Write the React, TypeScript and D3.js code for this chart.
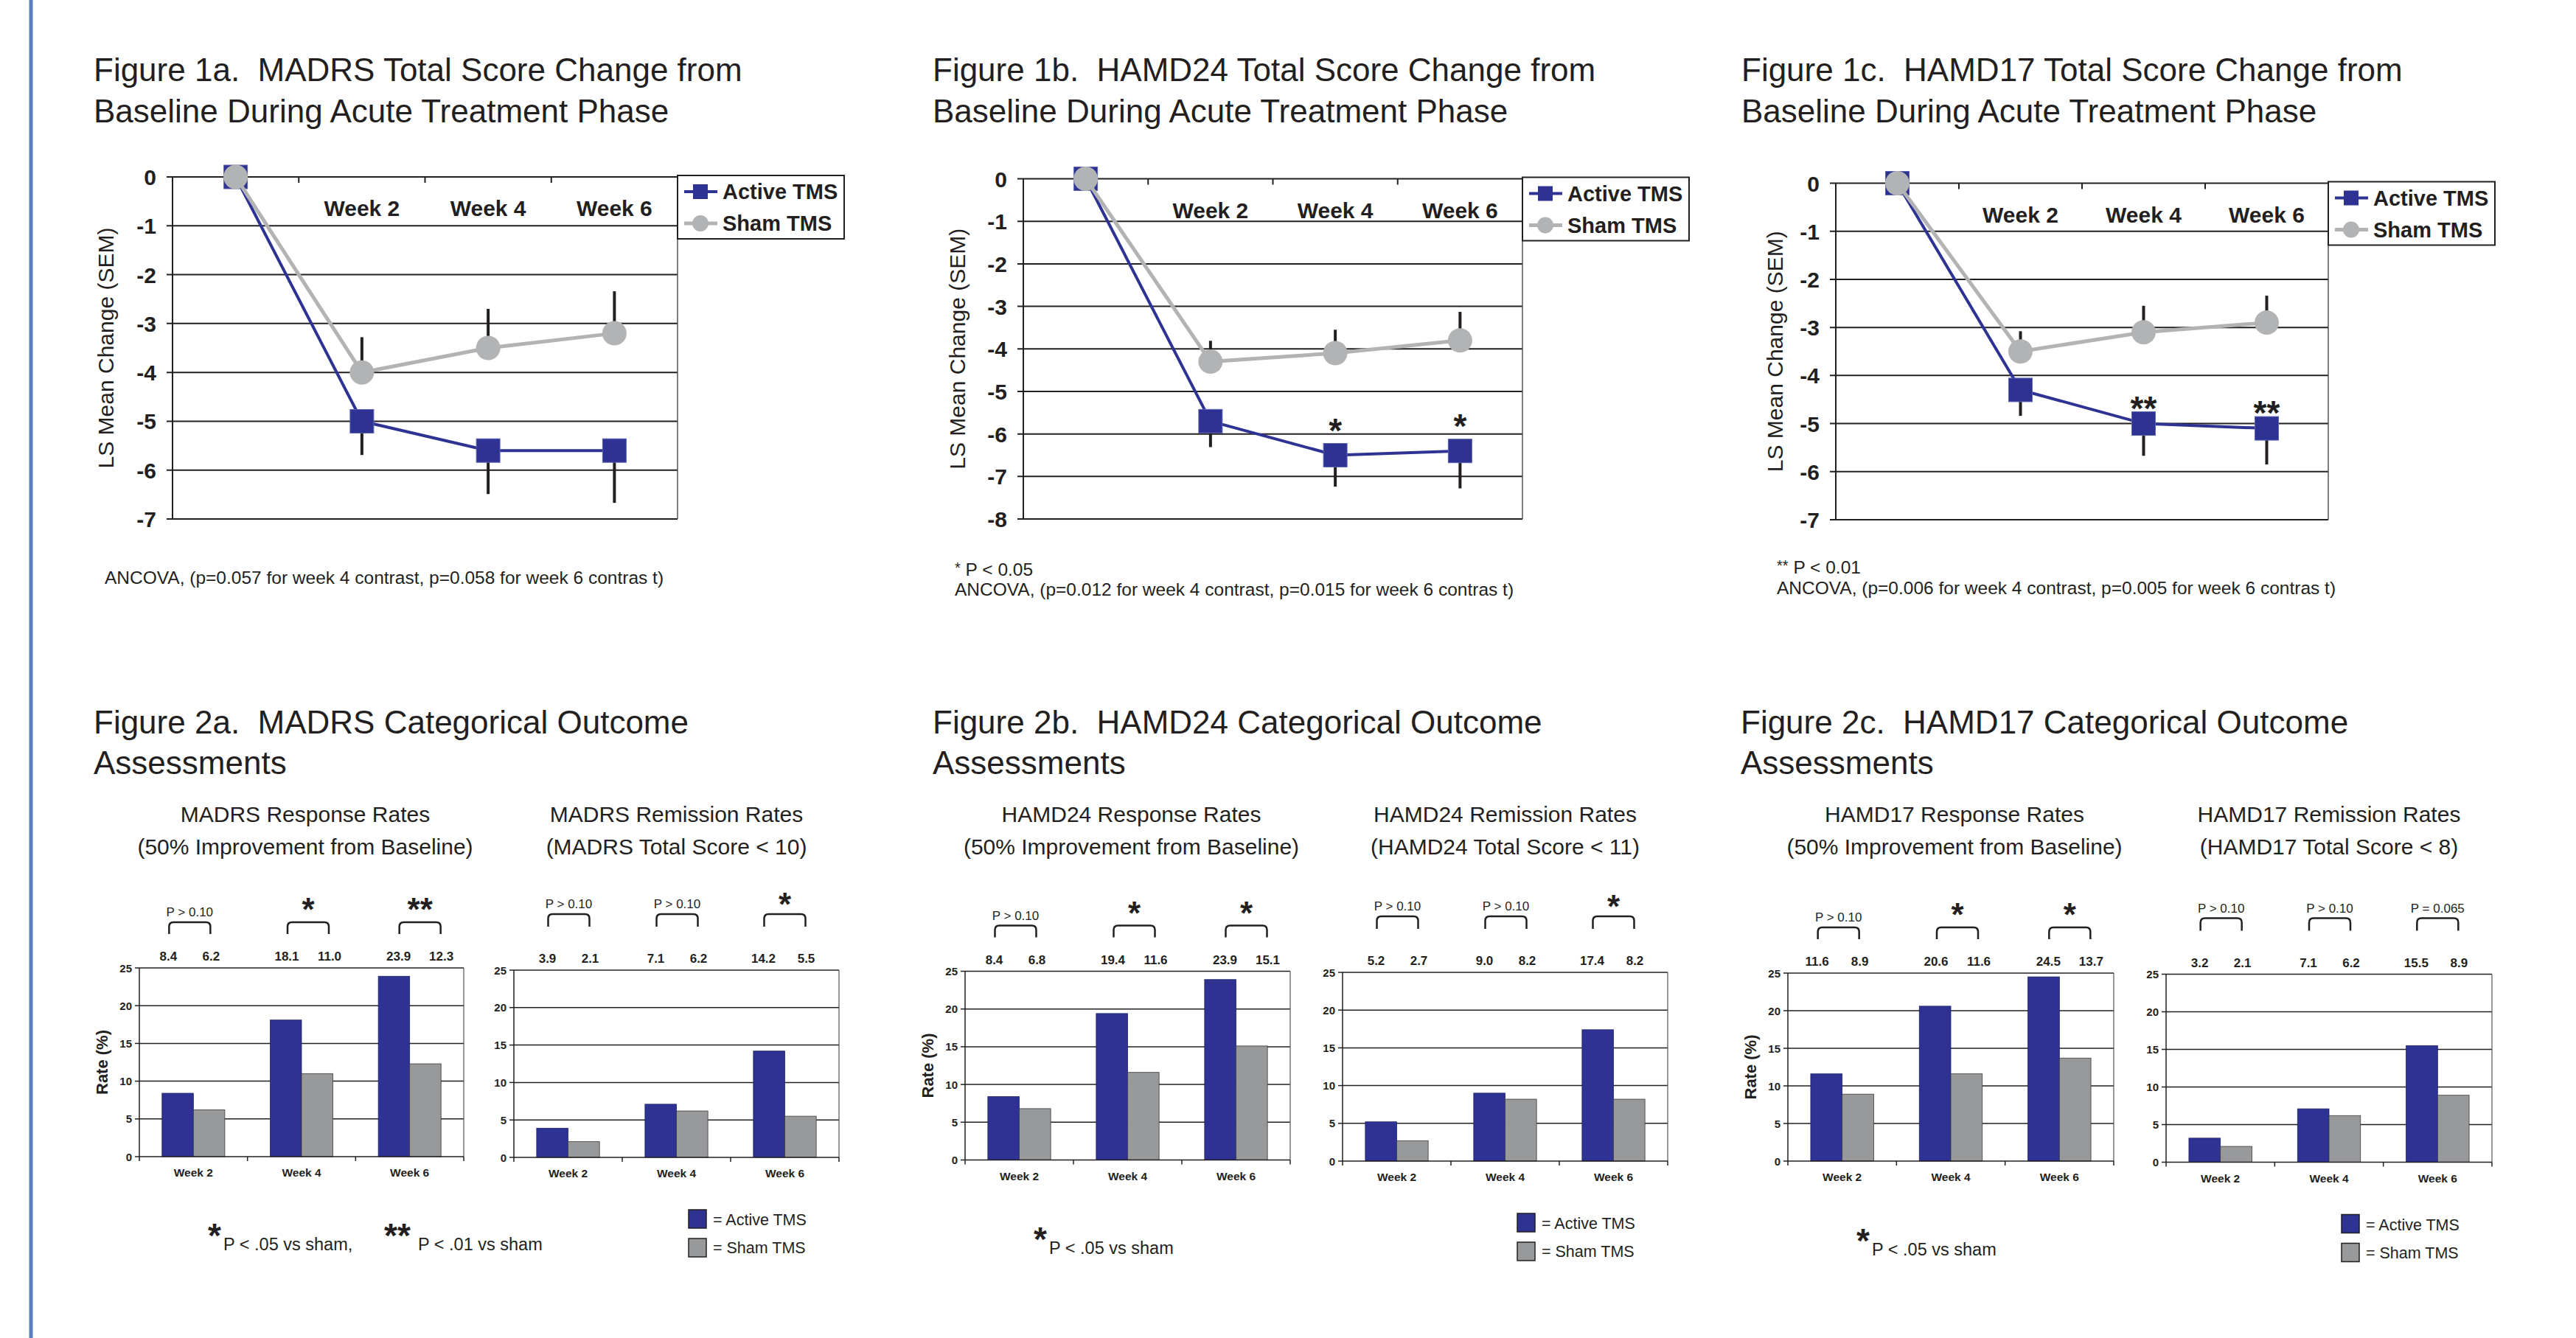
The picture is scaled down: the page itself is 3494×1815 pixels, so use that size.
import React from 'react';
import * as d3 from 'd3';

const INK = '#231f20';
const BLUE = '#2e3393';
const GREY_LINE = '#b2b3b4';
const GREY_BAR = '#98999b';
const RULE = '#5b80bd';
const SANS = "'Liberation Sans', Arial, Helvetica, sans-serif";

// ---------------- Figure 1 data (LS mean change, SEM) ----------------
const timepoints = ['Baseline', 'Week 2', 'Week 4', 'Week 6'];
const seriesNames = ['Active TMS', 'Sham TMS'];

const madrsActive = [0, -5.0, -5.6, -5.6];
const madrsActiveSem = [0, 0.69, 0.89, 1.07];
const madrsSham = [0, -4.0, -3.5, -3.2];
const madrsShamSem = [0, 0.72, 0.8, 0.86];
const madrsMarks = ['', '', '', ''];
const madrsTicks = [0, -1, -2, -3, -4, -5, -6, -7];

const hamd24Active = [0, -5.7, -6.5, -6.4];
const hamd24ActiveSem = [0, 0.61, 0.74, 0.88];
const hamd24Sham = [0, -4.3, -4.1, -3.8];
const hamd24ShamSem = [0, 0.49, 0.55, 0.67];
const hamd24Marks = ['', '', '*', '*'];
const hamd24Ticks = [0, -1, -2, -3, -4, -5, -6, -7, -8];

const hamd17Active = [0, -4.3, -5.0, -5.1];
const hamd17ActiveSem = [0, 0.54, 0.67, 0.75];
const hamd17Sham = [0, -3.5, -3.1, -2.9];
const hamd17ShamSem = [0, 0.42, 0.55, 0.56];
const hamd17Marks = ['', '', '**', '**'];
const hamd17Ticks = [0, -1, -2, -3, -4, -5, -6, -7];

const fig1Titles = [
  ['Figure 1a.  MADRS Total Score Change from', 'Baseline During Acute Treatment Phase'],
  ['Figure 1b.  HAMD24 Total Score Change from', 'Baseline During Acute Treatment Phase'],
  ['Figure 1c.  HAMD17 Total Score Change from', 'Baseline During Acute Treatment Phase'],
];
const fig1Notes = [
  [['', ''], ['', 'ANCOVA, (p=0.057 for week 4 contrast, p=0.058 for week 6 contras t)']],
  [['*', ' P < 0.05'], ['', 'ANCOVA, (p=0.012 for week 4 contrast, p=0.015 for week 6 contras t)']],
  [['**', ' P < 0.01'], ['', 'ANCOVA, (p=0.006 for week 4 contrast, p=0.005 for week 6 contras t)']],
];
const yTitle1 = 'LS Mean Change (SEM)';

// ---------------- Figure 2 data (rates, %) ----------------
const barWeeks = ['Week 2', 'Week 4', 'Week 6'];

const madrsRespActive = [8.4, 18.1, 23.9];
const madrsRespSham = [6.2, 11.0, 12.3];
const madrsRespSig = ['P > 0.10', '*', '**'];
const madrsRemActive = [3.9, 7.1, 14.2];
const madrsRemSham = [2.1, 6.2, 5.5];
const madrsRemSig = ['P > 0.10', 'P > 0.10', '*'];

const hamd24RespActive = [8.4, 19.4, 23.9];
const hamd24RespSham = [6.8, 11.6, 15.1];
const hamd24RespSig = ['P > 0.10', '*', '*'];
const hamd24RemActive = [5.2, 9.0, 17.4];
const hamd24RemSham = [2.7, 8.2, 8.2];
const hamd24RemSig = ['P > 0.10', 'P > 0.10', '*'];

const hamd17RespActive = [11.6, 20.6, 24.5];
const hamd17RespSham = [8.9, 11.6, 13.7];
const hamd17RespSig = ['P > 0.10', '*', '*'];
const hamd17RemActive = [3.2, 7.1, 15.5];
const hamd17RemSham = [2.1, 6.2, 8.9];
const hamd17RemSig = ['P > 0.10', 'P > 0.10', 'P = 0.065'];

const rateTicks = [0, 5, 10, 15, 20, 25];

const fig2Titles = [
  ['Figure 2a.  MADRS Categorical Outcome', 'Assessments'],
  ['Figure 2b.  HAMD24 Categorical Outcome', 'Assessments'],
  ['Figure 2c.  HAMD17 Categorical Outcome', 'Assessments'],
];
const fig2Subtitles = [
  [['MADRS Response Rates', '(50% Improvement from Baseline)'], ['MADRS Remission Rates', '(MADRS Total Score < 10)']],
  [['HAMD24 Response Rates', '(50% Improvement from Baseline)'], ['HAMD24 Remission Rates', '(HAMD24 Total Score < 11)']],
  [['HAMD17 Response Rates', '(50% Improvement from Baseline)'], ['HAMD17 Remission Rates', '(HAMD17 Total Score < 8)']],
];
const fig2Footers = [
  [['*', 'P < .05 vs sham,'], ['**', 'P < .01 vs sham']],
  [['*', 'P < .05 vs sham']],
  [['*', 'P < .05 vs sham']],
];
const legendLabels2 = ['= Active TMS', '= Sham TMS'];

// ---------------- Layout ----------------
const lineLayouts = [
  { left: 234, right: 919, top: 240, bottom: 704, titleX: 127, noteX: 142, noteY: [0, 792], markGap: 0, yTitleDx: 80 },
  { left: 1388, right: 2065, top: 242.5, bottom: 704, titleX: 1265, noteX: 1295, noteY: [781, 808], markGap: 44, yTitleDx: 79 },
  { left: 2490, right: 3158, top: 248.5, bottom: 705, titleX: 2362, noteX: 2410, noteY: [778, 806], markGap: 31, yTitleDx: 72 },
];
const barLayouts = [
  { resp: { left: 189, right: 629, top: 1313, bottom: 1569 }, rem: { left: 697, right: 1138, top: 1316, bottom: 1570 }, titleX: 127 },
  { resp: { left: 1309, right: 1750, top: 1317.5, bottom: 1573.5 }, rem: { left: 1821, right: 2262, top: 1319, bottom: 1575 }, titleX: 1265 },
  { resp: { left: 2425, right: 2867, top: 1320, bottom: 1575 }, rem: { left: 2938, right: 3380, top: 1321.5, bottom: 1576.5 }, titleX: 2361 },
];
const respAnnotOffset = [-5, 9, 14];
const remAnnotOffset = [1, 1, 0];

function Asterisk({ x, cy, text, size }: { x: number; cy: number; text: string; size: number }) {
  return (
    <text x={x} y={cy + size * 0.57} textAnchor="middle" fontSize={size} fontWeight="bold" fill={INK}>
      {text}
    </text>
  );
}

function LineChart({ L, title, active, activeSem, sham, shamSem, marks, ticks, notes }: any) {
  const x = d3.scaleBand<string>().domain(timepoints).range([L.left, L.right]).padding(0);
  const cx = (i: number) => (x(timepoints[i]) as number) + x.bandwidth() / 2;
  const y = d3.scaleLinear().domain([d3.min(ticks) as number, 0]).range([L.bottom, L.top]);
  const line = d3.line<number>().x((_, i) => cx(i)).y((v) => y(v));
  const sq = 32;
  const midY = (L.top + L.bottom) / 2;
  return (
    <g>
      {title.map((t: string, i: number) => (
        <text key={i} x={L.titleX} y={110 + i * 56} fontSize={44} fill={INK} style={{ whiteSpace: 'pre' }}>
          {t}
        </text>
      ))}
      {/* grid */}
      {ticks.map((t: number) => (
        <line key={t} x1={L.left - 8} x2={L.right} y1={y(t)} y2={y(t)} stroke={INK} strokeWidth={2} />
      ))}
      <line x1={L.left} x2={L.left} y1={y(0)} y2={y(d3.min(ticks) as number)} stroke={INK} strokeWidth={2} />
      <line x1={L.right} x2={L.right} y1={y(0)} y2={y(d3.min(ticks) as number)} stroke="#555" strokeWidth={1.5} />
      {timepoints.slice(1).map((d) => (
        <line key={d} x1={x(d)} x2={x(d)} y1={y(0)} y2={y(0) + 8} stroke={INK} strokeWidth={2} />
      ))}
      {ticks.map((t: number) => (
        <text key={'l' + t} x={L.left - 22} y={y(t) + 11} textAnchor="end" fontSize={30} fontWeight="bold" fill={INK}>
          {t}
        </text>
      ))}
      {timepoints.slice(1).map((d, i) => (
        <text key={'w' + d} x={cx(i + 1)} y={L.top + 53} textAnchor="middle" fontSize={30} fontWeight="bold" fill={INK}>
          {d}
        </text>
      ))}
      <text transform={`translate(${L.left - L.yTitleDx},${midY}) rotate(-90)`} textAnchor="middle" fontSize={30} fill={INK}>
        {yTitle1}
      </text>
      {/* error bars */}
      {active.map((v: number, i: number) =>
        i === 0 ? null : (
          <line key={'ea' + i} x1={cx(i)} x2={cx(i)} y1={y(v)} y2={y(v - activeSem[i])} stroke={INK} strokeWidth={4} />
        )
      )}
      {sham.map((v: number, i: number) =>
        i === 0 ? null : (
          <line key={'es' + i} x1={cx(i)} x2={cx(i)} y1={y(v)} y2={y(v + shamSem[i])} stroke={INK} strokeWidth={4} />
        )
      )}
      {/* active */}
      <path d={line(active) as string} fill="none" stroke={BLUE} strokeWidth={4} />
      {active.map((v: number, i: number) => (
        <rect key={'ma' + i} x={cx(i) - sq / 2} y={y(v) - sq / 2} width={sq} height={sq} fill={BLUE} stroke="#5b62b0" strokeWidth={1} />
      ))}
      {/* sham */}
      <path d={line(sham) as string} fill="none" stroke={GREY_LINE} strokeWidth={5} />
      {sham.map((v: number, i: number) => (
        <circle key={'ms' + i} cx={cx(i)} cy={y(v)} r={16.5} fill={GREY_LINE} />
      ))}
      {marks.map((m: string, i: number) =>
        m ? <Asterisk key={'k' + i} x={cx(i)} cy={y(active[i]) - L.markGap} text={m} size={46} /> : null
      )}
      {/* legend */}
      <rect x={L.right} y={L.top - 2} width={226} height={86} fill="#fff" stroke={INK} strokeWidth={2} />
      {seriesNames.map((n, i) => {
        const ry = L.top + 20 + i * 43;
        const col = i === 0 ? BLUE : GREY_LINE;
        return (
          <g key={n}>
            <line x1={L.right + 9} x2={L.right + 54} y1={ry} y2={ry} stroke={col} strokeWidth={i === 0 ? 4 : 5} />
            {i === 0 ? (
              <rect x={L.right + 21} y={ry - 10} width={20} height={20} fill={BLUE} />
            ) : (
              <circle cx={L.right + 31} cy={ry} r={11} fill={GREY_LINE} />
            )}
            <text x={L.right + 61} y={ry + 10} fontSize={29} fontWeight="bold" fill={INK}>
              {n}
            </text>
          </g>
        );
      })}
      {/* notes */}
      {notes.map((nt: string[], i: number) =>
        nt[0] || nt[1] ? (
          <text key={'n' + i} x={L.noteX} y={L.noteY[i]} fontSize={24.5} fill={INK} style={{ whiteSpace: 'pre' }}>
            {nt[0] ? (
              <tspan fontSize={20} dy={-4}>
                {nt[0]}
              </tspan>
            ) : null}
            <tspan dy={nt[0] ? 4 : 0}>{nt[1]}</tspan>
          </text>
        ) : null
      )}
    </g>
  );
}

function BarPanel({ B, active, sham, sig, kind, subtitle }: any) {
  const x = d3.scaleBand<string>().domain(barWeeks).range([B.left, B.right]).padding(0);
  const y = d3.scaleLinear().domain([0, 25]).range([B.bottom, B.top]);
  const bw = x.bandwidth() * 0.29;
  const c = (i: number) => (x(barWeeks[i]) as number) + x.bandwidth() / 2;
  const isResp = kind === 'resp';
  const offs = isResp ? respAnnotOffset : remAnnotOffset;
  const bt = isResp ? B.top - 62 : B.top - 76;
  const legB = isResp ? B.top - 46 : B.top - 59;
  const pY = isResp ? B.top - 70 : B.top - 84;
  const starY = isResp ? B.top - 89 : B.top - 99;
  const subX = (B.left + B.right) / 2 + (isResp ? 5 : 0);
  const bounds = [B.left, ...barWeeks.slice(1).map((d) => x(d) as number), B.right];
  return (
    <g>
      {subtitle.map((s: string, i: number) => (
        <text key={s} x={subX} y={1115 + i * 44} textAnchor="middle" fontSize={30} fill={INK}>
          {s}
        </text>
      ))}
      {rateTicks.slice(1).map((t) => (
        <line key={t} x1={B.left} x2={B.right} y1={y(t)} y2={y(t)} stroke={INK} strokeWidth={1.5} />
      ))}
      <line x1={B.right} x2={B.right} y1={y(25)} y2={y(0)} stroke="#555" strokeWidth={1.2} />
      {barWeeks.map((d, i) => (
        <g key={d}>
          <rect x={c(i) - bw} y={y(active[i])} width={bw} height={y(0) - y(active[i])} fill={BLUE} stroke="#1f2466" strokeWidth={0.8} />
          <rect x={c(i)} y={y(sham[i])} width={bw} height={y(0) - y(sham[i])} fill={GREY_BAR} stroke="#3a3a3a" strokeWidth={0.8} />
          <text x={c(i)} y={B.bottom + 27} textAnchor="middle" fontSize={15.5} fontWeight="bold" fill={INK}>
            {d}
          </text>
        </g>
      ))}
      <line x1={B.left} x2={B.left} y1={y(25)} y2={y(0)} stroke={INK} strokeWidth={1.5} />
      <line x1={B.left} x2={B.right} y1={y(0)} y2={y(0)} stroke={INK} strokeWidth={1.5} />
      {rateTicks.map((t) => (
        <g key={'t' + t}>
          <line x1={B.left - 6} x2={B.left} y1={y(t)} y2={y(t)} stroke={INK} strokeWidth={1.5} />
          <text x={B.left - 10} y={y(t) + 5.5} textAnchor="end" fontSize={15} fontWeight="bold" fill={INK}>
            {t}
          </text>
        </g>
      ))}
      {bounds.map((bx, i) => (
        <line key={'b' + i} x1={bx} x2={bx} y1={y(0)} y2={y(0) + 6} stroke={INK} strokeWidth={1.5} />
      ))}
      {isResp ? (
        <text transform={`translate(${B.left - 43},${(B.top + B.bottom) / 2}) rotate(-90)`} textAnchor="middle" fontSize={22} fontWeight="bold" fill={INK}>
          Rate (%)
        </text>
      ) : null}
      {barWeeks.map((d, i) => {
        const ac = c(i) + offs[i];
        const s = sig[i];
        return (
          <g key={'s' + d}>
            <path
              d={`M${ac - 28},${legB} L${ac - 28},${bt + 6} Q${ac - 28},${bt} ${ac - 22},${bt} L${ac + 22},${bt} Q${ac + 28},${bt} ${ac + 28},${bt + 6} L${ac + 28},${legB}`}
              fill="none"
              stroke={INK}
              strokeWidth={2.5}
            />
            {s.startsWith('P') ? (
              <text x={ac} y={pY} textAnchor="middle" fontSize={17} fill={INK}>
                {s}
              </text>
            ) : (
              <Asterisk x={ac} cy={starY} text={s} size={44} />
            )}
            <text x={ac - 29} y={B.top - 10} textAnchor="middle" fontSize={17} fontWeight="bold" fill={INK}>
              {active[i].toFixed(1)}
            </text>
            <text x={ac + 29} y={B.top - 10} textAnchor="middle" fontSize={17} fontWeight="bold" fill={INK}>
              {sham[i].toFixed(1)}
            </text>
          </g>
        );
      })}
    </g>
  );
}

function BarFigure({ idx, respActive, respSham, respSig, remActive, remSham, remSig }: any) {
  const Lb = barLayouts[idx];
  const footers = fig2Footers[idx];
  const footX = [Lb.resp.left + 102, Lb.resp.left + 350];
  const lx = Lb.rem.right - 204;
  const ly = Lb.rem.bottom + 71;
  return (
    <g>
      {fig2Titles[idx].map((t, i) => (
        <text key={i} x={Lb.titleX} y={995 + i * 55} fontSize={44} fill={INK} style={{ whiteSpace: 'pre' }}>
          {t}
        </text>
      ))}
      <BarPanel B={Lb.resp} active={respActive} sham={respSham} sig={respSig} kind="resp" subtitle={fig2Subtitles[idx][0]} />
      <BarPanel B={Lb.rem} active={remActive} sham={remSham} sig={remSig} kind="rem" subtitle={fig2Subtitles[idx][1]} />
      {footers.map((f, i) => (
        <g key={i}>
          <Asterisk x={footX[i]} cy={Lb.rem.bottom + 96} text={f[0]} size={46} />
          <text x={footX[i] + (f[0].length > 1 ? 28 : 12)} y={Lb.rem.bottom + 126} fontSize={23.5} fill={INK}>
            {f[1]}
          </text>
        </g>
      ))}
      {legendLabels2.map((l, i) => (
        <g key={l}>
          <rect x={lx} y={ly + i * 39} width={24} height={25} fill={i === 0 ? BLUE : GREY_BAR} stroke={INK} strokeWidth={1.5} />
          <text x={lx + 33} y={ly + 21 + i * 38} fontSize={21.5} fill={INK}>
            {l}
          </text>
        </g>
      ))}
    </g>
  );
}

export default function App() {
  return (
    <svg
      width={3494}
      height={1815}
      viewBox="0 0 3494 1815"
      style={{ position: 'absolute', left: 0, top: 0, background: '#fff' }}
      fontFamily={SANS}
    >
      <rect x={0} y={0} width={3494} height={1815} fill="#fff" />
      <line x1={42} x2={42} y1={0} y2={1815} stroke={RULE} strokeWidth={5} />
      <LineChart L={lineLayouts[0]} title={fig1Titles[0]} active={madrsActive} activeSem={madrsActiveSem} sham={madrsSham} shamSem={madrsShamSem} marks={madrsMarks} ticks={madrsTicks} notes={fig1Notes[0]} />
      <LineChart L={lineLayouts[1]} title={fig1Titles[1]} active={hamd24Active} activeSem={hamd24ActiveSem} sham={hamd24Sham} shamSem={hamd24ShamSem} marks={hamd24Marks} ticks={hamd24Ticks} notes={fig1Notes[1]} />
      <LineChart L={lineLayouts[2]} title={fig1Titles[2]} active={hamd17Active} activeSem={hamd17ActiveSem} sham={hamd17Sham} shamSem={hamd17ShamSem} marks={hamd17Marks} ticks={hamd17Ticks} notes={fig1Notes[2]} />
      <BarFigure idx={0} respActive={madrsRespActive} respSham={madrsRespSham} respSig={madrsRespSig} remActive={madrsRemActive} remSham={madrsRemSham} remSig={madrsRemSig} />
      <BarFigure idx={1} respActive={hamd24RespActive} respSham={hamd24RespSham} respSig={hamd24RespSig} remActive={hamd24RemActive} remSham={hamd24RemSham} remSig={hamd24RemSig} />
      <BarFigure idx={2} respActive={hamd17RespActive} respSham={hamd17RespSham} respSig={hamd17RespSig} remActive={hamd17RemActive} remSham={hamd17RemSham} remSig={hamd17RemSig} />
    </svg>
  );
}
